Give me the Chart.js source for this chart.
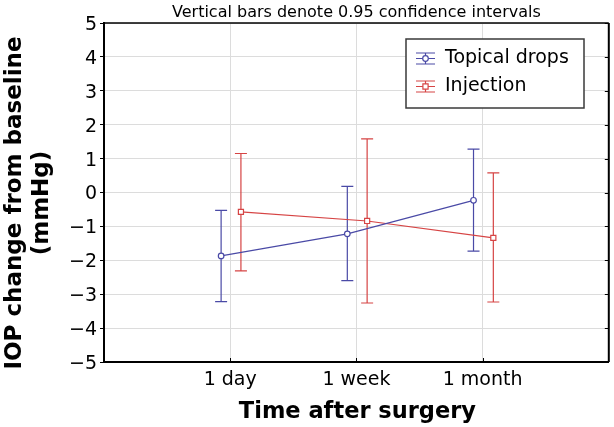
<!DOCTYPE html>
<html>
<head>
<meta charset="utf-8">
<script src="https://cdn.jsdelivr.net/npm/chart.js@4/dist/chart.umd.min.js"></script>
<style>
  html, body { margin: 0; padding: 0; background: #fff; }
  canvas { display: block; }
</style>
</head>
<body>
<canvas id="c" width="614" height="427"></canvas>
<script>
// ---- data ----
const categories = ['1 day', '1 week', '1 month'];
const topicalMean = [-1.87, -1.22, -0.23];
const topicalLow  = [-3.22, -2.60, -1.73];
const topicalHigh = [-0.53, 0.18, 1.28];
const injectionMean = [-0.57, -0.84, -1.34];
const injectionLow  = [-2.31, -3.26, -3.23];
const injectionHigh = [1.15, 1.58, 0.58];
const yTickValues = [-5, -4, -3, -2, -1, 0, 1, 2, 3, 4, 5];
const seriesNames = ['Topical drops', 'Injection'];
const chartTitle = 'Vertical bars denote 0.95 confidence intervals';
const xTitle = 'Time after surgery';
const yTitleLines = ['IOP change from baseline', '(mmHg)'];

// ---- styles ----
const BLUE = '#4a4aa6';
const RED = '#d64444';
const FONT = 'DejaVu Sans';
const dodge = [-0.072, 0.085];

function pts(means, k) {
  return means.map((m, i) => ({ x: i + 1 + dodge[k], y: m }));
}

const errorData = [
  { low: topicalLow, high: topicalHigh },
  { low: injectionLow, high: injectionHigh }
];

const errorBars = {
  id: 'errorBars',
  beforeDatasetsDraw(chart) {
    const ctx = chart.ctx;
    const ys = chart.scales.y;
    chart.data.datasets.forEach((ds, k) => {
      const meta = chart.getDatasetMeta(k);
      ctx.save();
      ctx.strokeStyle = ds.borderColor;
      ctx.lineWidth = 1.2;
      meta.data.forEach((el, i) => {
        const x = el.x;
        const y1 = ys.getPixelForValue(errorData[k].low[i]);
        const y2 = ys.getPixelForValue(errorData[k].high[i]);
        ctx.beginPath();
        ctx.moveTo(x, y1); ctx.lineTo(x, y2);
        ctx.moveTo(x - 6, y1); ctx.lineTo(x + 6, y1);
        ctx.moveTo(x - 6, y2); ctx.lineTo(x + 6, y2);
        ctx.stroke();
      });
      ctx.restore();
    });
  }
};

const decorations = {
  id: 'decorations',
  afterDraw(chart) {
    const ctx = chart.ctx;
    const a = chart.chartArea;
    const xs = chart.scales.x, ys = chart.scales.y;
    ctx.save();
    // frame
    ctx.strokeStyle = '#000';
    ctx.lineWidth = 1.5;
    ctx.beginPath();
    ctx.moveTo(a.left, a.top); ctx.lineTo(a.right, a.top);
    ctx.stroke();
    ctx.lineWidth = 2;
    ctx.beginPath();
    ctx.moveTo(a.right, a.top); ctx.lineTo(a.right, a.bottom);
    ctx.stroke();
    // inner ticks on right frame
    ctx.lineWidth = 1;
    ctx.beginPath();
    yTickValues.forEach(v => {
      const y = Math.round(ys.getPixelForValue(v)) + 0.5;
      ctx.moveTo(a.right - 4, y); ctx.lineTo(a.right, y);
    });
    // inner ticks on bottom axis
    categories.forEach((c, i) => {
      const x = Math.round(xs.getPixelForValue(i + 1)) + 0.5;
      ctx.moveTo(x, a.bottom - 4); ctx.lineTo(x, a.bottom);
    });
    ctx.stroke();

    // title
    ctx.fillStyle = '#000';
    ctx.font = '16px "' + FONT + '"';
    ctx.textAlign = 'center';
    ctx.textBaseline = 'alphabetic';
    ctx.fillText(chartTitle, (a.left + a.right) / 2, 17);

    // x title
    ctx.font = 'bold 22.5px "' + FONT + '"';
    ctx.fillText(xTitle, (a.left + a.right) / 2 + 1, 418);

    // y title
    ctx.save();
    ctx.translate(21, 203);
    ctx.rotate(-Math.PI / 2);
    ctx.font = 'bold 23px "' + FONT + '"';
    ctx.fillText(yTitleLines[0], 0, 0);
    ctx.fillText(yTitleLines[1], 0, 27);
    ctx.restore();

    // legend
    const bx = 406, by = 39, bw = 178, bh = 69;
    ctx.fillStyle = '#fff';
    ctx.fillRect(bx, by, bw, bh);
    ctx.strokeStyle = '#3a3a3a';
    ctx.lineWidth = 1.5;
    ctx.strokeRect(bx, by, bw, bh);
    const rows = [58.5, 86.5];
    chart.data.datasets.forEach((ds, k) => {
      const cy = rows[k];
      const x0 = 416, x1 = 435, cx = (x0 + x1) / 2;
      ctx.strokeStyle = ds.borderColor;
      ctx.lineWidth = 1.2;
      ctx.beginPath();
      ctx.moveTo(x0, cy); ctx.lineTo(x1, cy);
      ctx.moveTo(x0, cy - 5.5); ctx.lineTo(x1, cy - 5.5);
      ctx.moveTo(x0, cy + 5.5); ctx.lineTo(x1, cy + 5.5);
      ctx.moveTo(cx, cy - 5.5); ctx.lineTo(cx, cy + 5.5);
      ctx.stroke();
      ctx.fillStyle = '#fff';
      ctx.beginPath();
      if (ds.pointStyle === 'circle') {
        ctx.arc(cx, cy, 2.8, 0, Math.PI * 2);
      } else {
        ctx.rect(cx - 2.6, cy - 2.6, 5.2, 5.2);
      }
      ctx.fill();
      ctx.stroke();
      ctx.fillStyle = '#000';
      ctx.font = '19px "' + FONT + '"';
      ctx.textAlign = 'left';
      ctx.textBaseline = 'middle';
      ctx.fillText(ds.label, 445, cy);
    });
    ctx.restore();
  }
};

Chart.defaults.font.family = FONT;
Chart.defaults.color = '#000';

new Chart(document.getElementById('c'), {
  type: 'scatter',
  data: {
    datasets: [
      {
        label: seriesNames[0],
        data: pts(topicalMean, 0),
        showLine: true,
        borderColor: BLUE,
        backgroundColor: '#fff',
        borderWidth: 1.2,
        pointStyle: 'circle',
        pointRadius: 2.8,
        pointBorderWidth: 1.2,
        tension: 0
      },
      {
        label: seriesNames[1],
        data: pts(injectionMean, 1),
        showLine: true,
        borderColor: RED,
        backgroundColor: '#fff',
        borderWidth: 1.2,
        pointStyle: 'rect',
        pointRadius: 3.6,
        pointBorderWidth: 1.2,
        tension: 0
      }
    ]
  },
  options: {
    responsive: false,
    animation: false,
    layout: { padding: { top: 23, right: 3, left: 0, bottom: 0 } },
    plugins: {
      legend: { display: false },
      title: { display: false },
      tooltip: { enabled: false }
    },
    scales: {
      x: {
        type: 'linear',
        min: 0,
        max: 4,
        afterBuildTicks: s => { s.ticks = categories.map((c, i) => ({ value: i + 1 })); },
        afterFit: s => { s.height = 65; },
        ticks: {
          callback: v => categories[v - 1] || '',
          font: { size: 19 },
          padding: 7,
          maxRotation: 0,
          autoSkip: false
        },
        grid: { color: '#dcdcdc', lineWidth: 1, drawTicks: false },
        border: { color: '#000', width: 2 }
      },
      y: {
        type: 'linear',
        min: -5,
        max: 5,
        afterBuildTicks: s => { s.ticks = yTickValues.map(v => ({ value: v })); },
        afterFit: s => { s.width = 104; },
        ticks: {
          callback: v => String(v).replace('-', '\u2212'),
          font: { size: 19 },
          padding: 3,
          labelOffset: 2
        },
        grid: { color: '#dcdcdc', lineWidth: 1, drawTicks: true, tickLength: 4, tickColor: '#000' },
        border: { color: '#000', width: 2 }
      }
    }
  },
  plugins: [errorBars, decorations]
});
</script>
</body>
</html>
